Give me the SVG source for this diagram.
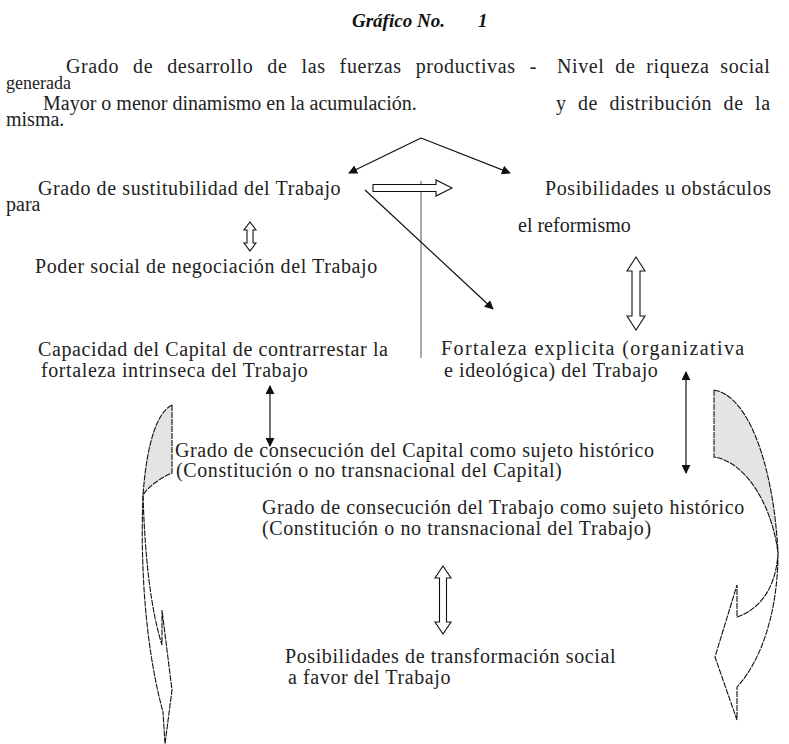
<svg xmlns="http://www.w3.org/2000/svg" width="789" height="744" viewBox="0 0 789 744" font-family="Liberation Serif, serif" font-size="20">
<defs>
<style>
.ln{stroke:#111;stroke-width:1.2;fill:none}
.thin{stroke:#555;stroke-width:1;fill:none}
.hol{stroke:#111;stroke-width:1.1;fill:#fff}
.shade{fill:#e4e4e4;stroke:none}
.curve{stroke:#111;stroke-width:1.1;fill:none;stroke-dasharray:6 1}
</style>
<marker id="ah" viewBox="0 0 10 10" refX="9" refY="5" markerWidth="9" markerHeight="9" markerUnits="userSpaceOnUse" orient="auto-start-reverse">
<path d="M0,0 L10,5 L0,10 Z" fill="#111"/>
</marker>
</defs>
<rect width="789" height="744" fill="#fff"/>

<g id="title" font-family="Liberation Serif, serif" font-weight="bold" font-style="italic" font-size="19" fill="#111">
<text x="352" y="27">Gráfico No.</text>
<text x="478" y="27">1</text>
</g>

<g fill="#222" font-family="Liberation Serif, serif" font-size="20" letter-spacing="0.6">
<g id="n-fuerzas">
<text x="66" y="73" word-spacing="8.5">Grado de desarrollo de las fuerzas productivas -</text>
<text x="6" y="89" font-size="18" letter-spacing="0">generada</text>
<text x="43" y="110" letter-spacing="0">Mayor o menor dinamismo en la acumulación.</text>
<text x="6" y="126" letter-spacing="0">misma.</text>
</g>
<g id="n-riqueza">
<text x="557" y="73" word-spacing="5.3">Nivel de riqueza social</text>
<text x="556" y="110" word-spacing="5.8">y de distribución de la</text>
</g>
<g id="n-sustitubilidad">
<text x="38" y="195">Grado de sustitubilidad del Trabajo</text>
<text x="6" y="211" letter-spacing="0">para</text>
</g>
<g id="n-posibilidades">
<text x="545" y="195">Posibilidades u obstáculos</text>
<text x="518" y="232" letter-spacing="0">el reformismo</text>
</g>
<g id="n-poder">
<text x="35" y="273">Poder social de negociación del Trabajo</text>
</g>
<g id="n-capacidad">
<text x="38" y="356">Capacidad del Capital de contrarrestar la</text>
<text x="41" y="377">fortaleza intrinseca del Trabajo</text>
</g>
<g id="n-fortaleza">
<text x="441" y="355" letter-spacing="1.4">Fortaleza explicita (organizativa</text>
<text x="444" y="377">e ideológica) del Trabajo</text>
</g>
<g id="n-capital-sujeto">
<text x="175" y="457">Grado de consecución del Capital como sujeto histórico</text>
<text x="176" y="477">(Constitución o no transnacional del Capital)</text>
</g>
<g id="n-trabajo-sujeto">
<text x="262" y="514">Grado de consecución del Trabajo como sujeto histórico</text>
<text x="262" y="535">(Constitución o no transnacional del Trabajo)</text>
</g>
<g id="n-transformacion">
<text x="285" y="663">Posibilidades de transformación social</text>
<text x="288" y="684">a favor del Trabajo</text>
</g>
</g>

<g id="connectors">
<line class="ln" x1="421" y1="138" x2="349" y2="173" marker-end="url(#ah)"/>
<line class="ln" x1="421" y1="138" x2="510" y2="173" marker-end="url(#ah)"/>
<line class="thin" x1="421" y1="181" x2="421" y2="358"/>
<line class="ln" x1="365" y1="190" x2="493" y2="309" marker-end="url(#ah)"/>
<polygon class="hol" points="373,184.5 436,184.5 436,180 452,188 436,196 436,191.5 373,191.5"/>
<polygon class="hol" points="250,222 256,230 253,230 253,243 256,243 250,251 244,243 247,243 247,230 244,230"/>
<polygon class="hol" points="636,257 645,271 640,271 640,316 645,316 636,330 627,316 632,316 632,271 627,271"/>
<polygon class="hol" points="443,566 451,578 446.5,578 446.5,622 451,622 443,634 435,622 439.5,622 439.5,578 435,578"/>
<line class="ln" x1="270" y1="386" x2="270" y2="446" marker-start="url(#ah)" marker-end="url(#ah)"/>
<line class="ln" x1="686" y1="372" x2="686" y2="473" marker-start="url(#ah)" marker-end="url(#ah)"/>

<g id="curved-left">
<path class="shade" d="M172,405 C158,412 147,440 143,495 C148,487 160,478 172,473 Z"/>
<path class="curve" d="M172,405 C158,412 147,440 143,495 C140,570 146,650 163,712"/>
<path class="curve" d="M172,405 L172,473 C160,478 148,487 143,495 C145,560 151,610 162,645 L162,610 L172,690 L165,744 L163,712"/>
</g>
<g id="curved-right">
<path class="shade" d="M714,390 C750,396 774,470 778,553 C772,505 746,462 714,457 Z"/>
<path class="curve" d="M714,390 C750,396 774,470 778,553 C776,590 758,610 737,617 L737,585 L715,657 L737,720 L737,687 C762,660 778,610 778,553"/>
<path class="curve" d="M714,390 L714,457 C746,462 772,505 778,553"/>
</g>
</g>
</svg>
